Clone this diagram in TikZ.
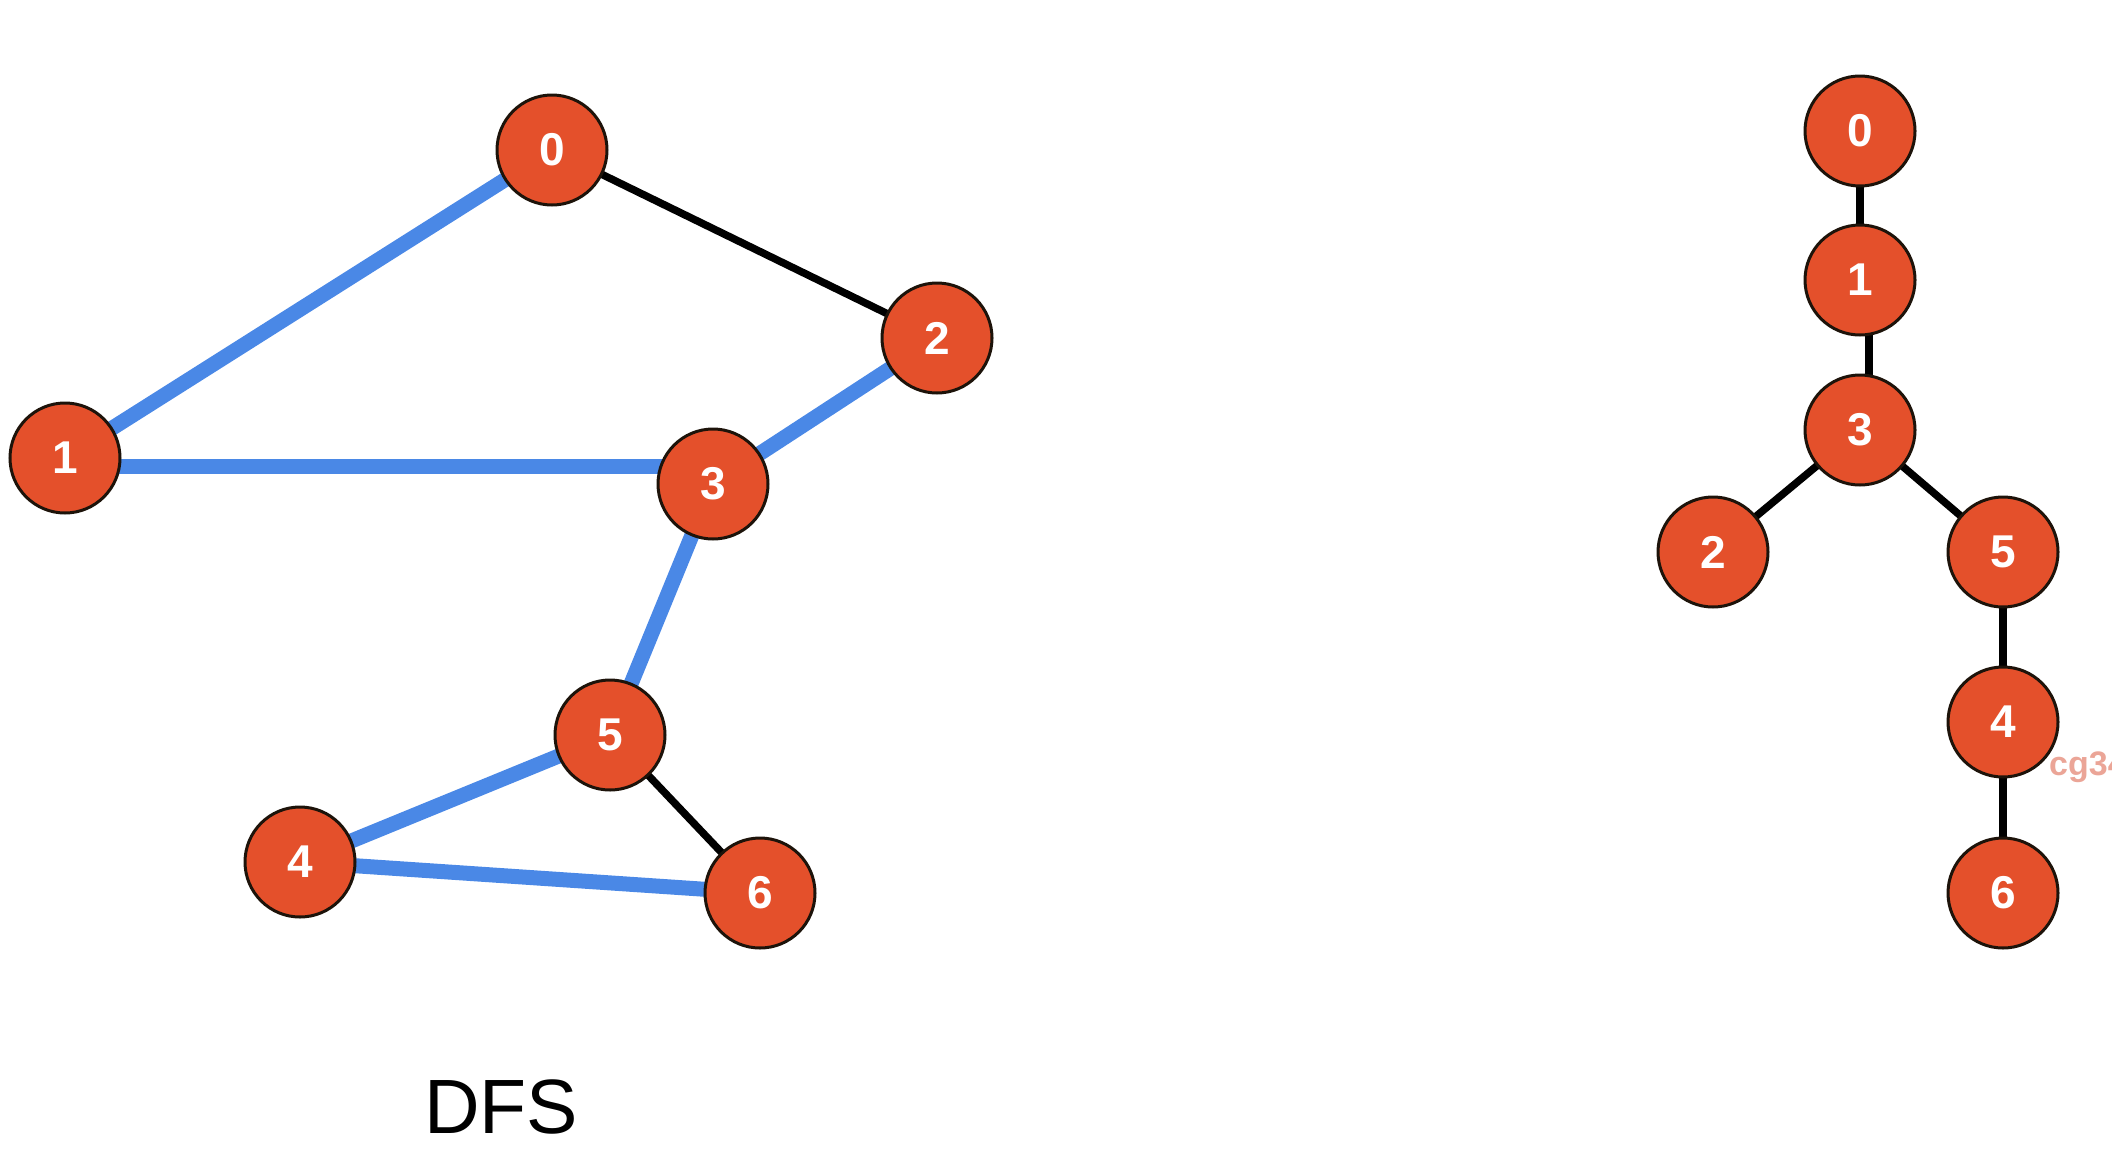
\documentclass[tikz,border=0pt]{standalone}
\usepackage{fontspec}
\setmainfont{Liberation Sans}
\begin{document}
\begin{tikzpicture}[x=1pt,y=-1pt,
  vtx/.style={circle,draw=black!85!brown,line width=3pt,fill=nodeorange,minimum size=110pt,inner sep=0pt,text=white,font=\fontsize{46}{46}\selectfont\bfseries},
  blueedge/.style={draw=edgeblue,line width=15pt},
  blackedge/.style={draw=black,line width=7.5pt}]
\definecolor{nodeorange}{HTML}{E4502B}
\definecolor{edgeblue}{HTML}{4A88E6}
\definecolor{wm}{HTML}{EBA597}
\useasboundingbox (0,0) rectangle (2112,1162);
\clip (0,0) rectangle (2112,1162);
% left graph
\coordinate (a0) at (552,150);
\coordinate (a1) at (65,458);
\coordinate (a2) at (937,338);
\coordinate (a3) at (713,484);
\coordinate (a5) at (610,735);
\coordinate (a4) at (300,862);
\coordinate (a6) at (760,893);
\draw[blueedge] (a0) -- (a1);
\draw[blueedge] ([yshift=-8pt]a1.center) -- ([yshift=18pt]a3.center);
\draw[blueedge] (a3) -- (a2);
\draw[blueedge] (a3) -- (a5);
\draw[blueedge] (a5) -- (a4);
\draw[blueedge] (a4) -- (a6);
\draw[blackedge] (a0) -- (a2);
\draw[blackedge] (a5) -- (a6);
\node[vtx] (n0) at (a0) {0};
\node[vtx] (n1) at (a1) {1};
\node[vtx] (n2) at (a2) {2};
\node[vtx] (n3) at (a3) {3};
\node[vtx] (n5) at (a5) {5};
\node[vtx] (n4) at (a4) {4};
\node[vtx] (n6) at (a6) {6};
% tree
\coordinate (b0) at (1860,131);
\coordinate (b1) at (1860,280);
\coordinate (b3) at (1860,430);
\coordinate (b2) at (1713,552);
\coordinate (b5) at (2003,552);
\coordinate (b4) at (2003,722);
\coordinate (b6) at (2003,893);
\draw[blackedge] (b0) -- (b1);
\draw[blackedge] ([xshift=9pt]b1.center) -- ([xshift=9pt]b3.center);
\draw[blackedge] (b3) -- (b2);
\draw[blackedge] (b3) -- (b5);
\draw[blackedge] (b5) -- (b4);
\draw[blackedge] (b4) -- (b6);
\node[vtx] (m0) at (b0) {0};
\node[vtx] (m1) at (b1) {1};
\node[vtx] (m3) at (b3) {3};
\node[vtx] (m2) at (b2) {2};
\node[vtx] (m5) at (b5) {5};
\node[vtx] (m4) at (b4) {4};
\node[vtx] (m6) at (b6) {6};
\node[anchor=west,text=wm,font=\fontsize{34}{34}\selectfont\bfseries,inner sep=0pt] (wmk) at (2049,767) {cg34};
% label
\node[font=\fontsize{77}{77}\selectfont] (dfs) at (501,1107) {DFS};
\end{tikzpicture}
\end{document}
